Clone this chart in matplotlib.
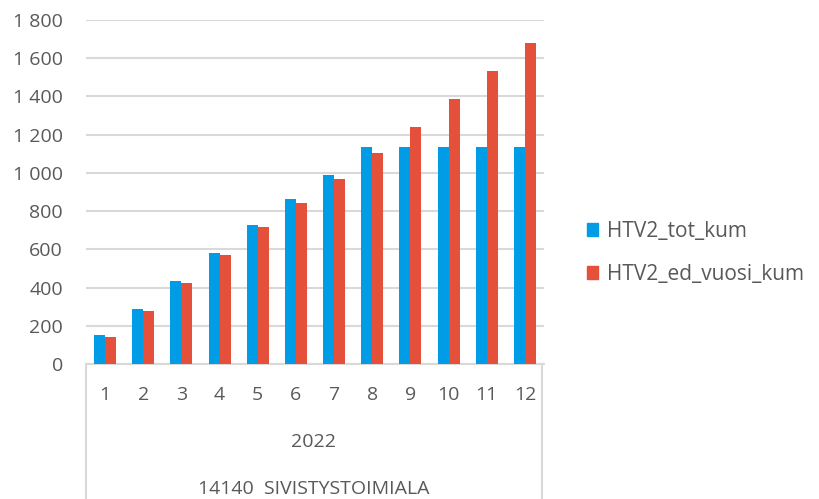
import numpy as np
import matplotlib.pyplot as plt
from matplotlib.ticker import FuncFormatter
from matplotlib.patches import Patch

plt.rcParams['font.family'] = ['Open Sans', 'DejaVu Sans']

# Data
months = ['1', '2', '3', '4', '5', '6', '7', '8', '9', '10', '11', '12']
tot_kum = [152, 288, 434, 581, 727, 863, 989, 1135, 1135, 1135, 1135, 1135]
ed_vuosi_kum = [141, 277, 424, 570, 717, 842, 968, 1104, 1240, 1387, 1533, 1680]
year_label = '2022'
group_label = '14140  SIVISTYSTOIMIALA'
series_names = ['HTV2_tot_kum', 'HTV2_ed_vuosi_kum']

blue = '#009DE6'
red = '#E4503A'
grid_col = '#D9D9D9'
text_col = '#595959'

W, H = 819, 499
fig = plt.figure(figsize=(W / 100, H / 100), dpi=100)
left, right, top, bottom = 86, 544, 20, 364
ax = fig.add_axes([left / W, 1 - bottom / H, (right - left) / W, (bottom - top) / H])

x = np.arange(len(months))
bw = 0.29
ax.bar(x - bw / 2, tot_kum, width=bw, color=blue, zorder=3)
ax.bar(x + bw / 2, ed_vuosi_kum, width=bw, color=red, zorder=3)

ax.set_xlim(-0.5, len(months) - 0.5)
ax.set_ylim(0, 1800)
ax.set_yticks(np.arange(0, 1801, 200))
ax.yaxis.set_major_formatter(FuncFormatter(lambda v, p: f'{int(v):,}'.replace(',', ' ')))
ax.grid(axis='y', color=grid_col, linewidth=1.5, zorder=0)
ax.set_xticks(x, months)
ax.tick_params(axis='x', length=0, pad=16, labelsize=14, labelcolor=text_col)
ax.tick_params(axis='y', length=0, pad=16.5, labelsize=14, labelcolor=text_col)

for s in ['top', 'right', 'left']:
    ax.spines[s].set_visible(False)
ax.spines['bottom'].set_color(grid_col)
ax.spines['bottom'].set_linewidth(1.5)

# category box lines
depth = (H - bottom) / (bottom - top)
ax.plot([0, 0], [0, -depth], transform=ax.transAxes, color=grid_col, lw=1.5, clip_on=False)
xr = (542 - left) / (right - left)
ax.plot([xr, xr], [0, -depth], transform=ax.transAxes, color=grid_col, lw=1.5, clip_on=False)

cx = ((left + 542) / 2) / W
fig.text(cx, 1 - 442 / H, year_label, ha='center', va='center', fontsize=14, color=text_col)
fig.text(cx, 1 - 489 / H, group_label, ha='center', va='center', fontsize=14, color=text_col)

handles = [Patch(color=blue), Patch(color=red)]
fig.legend(handles, series_names, loc='center left', bbox_to_anchor=(568 / W, 1 - 253 / H),
           frameon=False, fontsize=15, labelcolor=text_col, handlelength=0.56, handleheight=0.56,
           handletextpad=0.42, labelspacing=1.05)

fig.savefig('out.png', dpi=100)
